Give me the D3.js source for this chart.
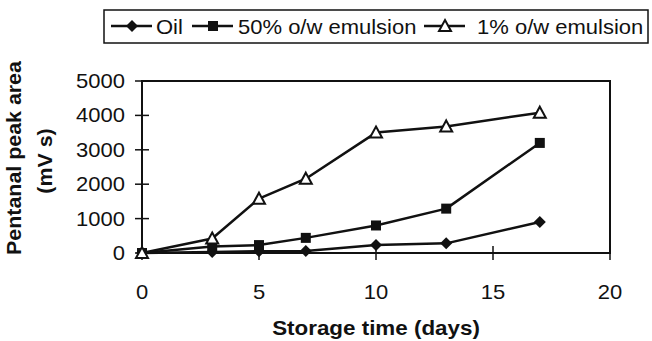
<!DOCTYPE html>
<html>
<head>
<meta charset="utf-8">
<script src="https://cdn.jsdelivr.net/npm/d3@7"></script>
<style>
  html, body { margin: 0; padding: 0; background: #fff; }
  svg { display: block; }
  text { font-family: "Liberation Sans", Arial, sans-serif; fill: #111; }
</style>
</head>
<body>
<svg id="chart" width="652" height="341"></svg>
<script>
// Storage days sampled
const days = [0, 3, 5, 7, 10, 13, 17];
// Pentanal peak area (mV s) per sample type
const oilValues = [0, 30, 50, 60, 230, 280, 900];
const emulsion50Values = [0, 190, 230, 440, 800, 1290, 3200];
const emulsion1Values = [0, 420, 1580, 2160, 3500, 3680, 4080];
const seriesNames = ["Oil", "50% o/w emulsion", "1% o/w emulsion"];
const xTicks = [0, 5, 10, 15, 20];
const yTicks = [0, 1000, 2000, 3000, 4000, 5000];

const series = [
  { name: seriesNames[0], values: oilValues, marker: "diamond" },
  { name: seriesNames[1], values: emulsion50Values, marker: "square" },
  { name: seriesNames[2], values: emulsion1Values, marker: "triangle" }
];

const svg = d3.select("#chart");
const plot = { left: 142, right: 610, top: 81, bottom: 253 };
const sx = 1.1; // horizontal stretch of the lettering

const x = d3.scaleLinear().domain([0, 20]).range([plot.left, plot.right]);
const y = d3.scaleLinear().domain([0, 5000]).range([plot.bottom, plot.top]);

const ink = "#111";

// plot frame
svg.append("rect")
  .attr("x", plot.left).attr("y", plot.top)
  .attr("width", plot.right - plot.left).attr("height", plot.bottom - plot.top)
  .attr("fill", "none").attr("stroke", ink).attr("stroke-width", 2);

// y axis: cross ticks and labels
const yAxis = svg.append("g");
yAxis.selectAll("line").data(yTicks).join("line")
  .attr("x1", plot.left - 7).attr("x2", plot.left + 7)
  .attr("y1", d => y(d)).attr("y2", d => y(d))
  .attr("stroke", ink).attr("stroke-width", 1.5);
yAxis.selectAll("text").data(yTicks).join("text")
  .attr("transform", d => `translate(125,${y(d) + 7}) scale(${sx},1)`)
  .attr("text-anchor", "end").attr("font-size", 20)
  .text(d => d);

// x axis: cross ticks and labels
const xAxis = svg.append("g");
xAxis.selectAll("line").data(xTicks).join("line")
  .attr("x1", d => x(d)).attr("x2", d => x(d))
  .attr("y1", plot.bottom - 7).attr("y2", plot.bottom + 7)
  .attr("stroke", ink).attr("stroke-width", 1.5);
xAxis.selectAll("text").data(xTicks).join("text")
  .attr("transform", d => `translate(${x(d)},299) scale(${sx},1)`)
  .attr("text-anchor", "middle").attr("font-size", 20)
  .text(d => d);

// axis titles
svg.append("text")
  .attr("transform", "translate(376,335) scale(1.12,1)")
  .attr("text-anchor", "middle").attr("font-size", 20).attr("font-weight", "bold")
  .text("Storage time (days)");
svg.append("text")
  .attr("transform", "translate(21,158) rotate(-90) scale(1.07,1)")
  .attr("text-anchor", "middle").attr("font-size", 20).attr("font-weight", "bold")
  .text("Pentanal peak area");
svg.append("text")
  .attr("transform", "translate(52,161) rotate(-90) scale(1.07,1)")
  .attr("text-anchor", "middle").attr("font-size", 20).attr("font-weight", "bold")
  .text("(mV s)");

// marker drawing
function drawMarker(g, type, cx, cy) {
  if (type === "diamond") {
    g.append("path")
      .attr("d", `M${cx},${cy - 6}L${cx + 6},${cy}L${cx},${cy + 6}L${cx - 6},${cy}Z`)
      .attr("fill", ink);
  } else if (type === "square") {
    g.append("rect")
      .attr("x", cx - 5).attr("y", cy - 5).attr("width", 10).attr("height", 10)
      .attr("fill", ink);
  } else {
    g.append("path")
      .attr("d", `M${cx},${cy - 6}L${cx + 6},${cy + 5}L${cx - 6},${cy + 5}Z`)
      .attr("fill", "#fff").attr("stroke", ink).attr("stroke-width", 2);
  }
}

const line = d3.line().x(d => x(d[0])).y(d => y(d[1]));

series.forEach(s => {
  const pts = days.map((d, i) => [d, s.values[i]]);
  const g = svg.append("g");
  g.append("path").attr("d", line(pts))
    .attr("fill", "none").attr("stroke", ink).attr("stroke-width", 2.5)
    .attr("stroke-linejoin", "round");
  pts.forEach(p => drawMarker(g, s.marker, x(p[0]), y(p[1])));
});

// legend
const legend = svg.append("g");
legend.append("rect")
  .attr("x", 104).attr("y", 10).attr("width", 544).attr("height", 33)
  .attr("fill", "#fff").attr("stroke", ink).attr("stroke-width", 1.5);
const legendItems = [
  { lx: 111, tx: 156 },
  { lx: 192, tx: 238 },
  { lx: 424, tx: 477 }
];
series.forEach((s, i) => {
  const it = legendItems[i];
  const cy = 26;
  legend.append("line")
    .attr("x1", it.lx).attr("x2", it.lx + 41)
    .attr("y1", cy).attr("y2", cy)
    .attr("stroke", ink).attr("stroke-width", 2.5);
  drawMarker(legend, s.marker, it.lx + 21, cy);
  legend.append("text")
    .attr("transform", `translate(${it.tx},${cy + 8}) scale(${sx},1)`)
    .attr("font-size", 20)
    .text(s.name);
});
</script>
</body>
</html>
